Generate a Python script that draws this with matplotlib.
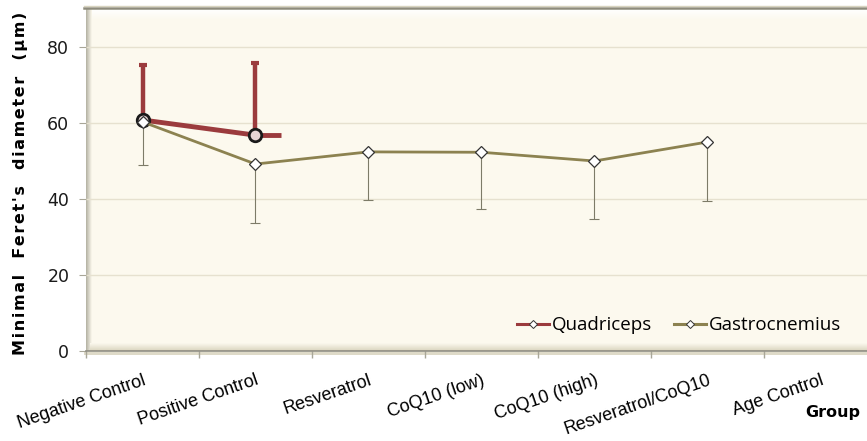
import numpy as np
import matplotlib.pyplot as plt
from matplotlib.lines import Line2D

# Groups and measurements (minimal Feret's diameter, µm)
groups = ["Negative Control", "Positive Control", "Resveratrol", "CoQ10 (low)",
          "CoQ10 (high)", "Resveratrol/CoQ10", "Age Control"]

quad_mean = [60.8, 56.8]
quad_err_up = [14.5, 19.0]
quad_tail = [56.8, 56.8]          # trailing segment after the last quadriceps point
quad_tail_x = [1.0, 1.23]

gastro_mean = [60.3, 49.2, 52.4, 52.3, 50.0, 55.0]
gastro_err_down = [11.3, 15.5, 12.6, 15.0, 15.2, 15.5]

y_ticks = [0, 20, 40, 60, 80]

RED = "#9B3B3D"
OLIVE = "#8C8250"
CREAM = "#FCF9EE"

W, H = 867, 441
fig = plt.figure(figsize=(W / 100, H / 100), dpi=100)

left_px, right_px, top_px, bottom_px = 86, 877, 8, 351
ax = fig.add_axes([left_px / W, 1 - bottom_px / H,
                   (right_px - left_px) / W, (bottom_px - top_px) / H])
ax.set_facecolor(CREAM)
ax.set_xlim(-0.5, len(groups) - 0.5)
ax.set_ylim(0, (bottom_px - top_px) / 3.8)

# grid
ax.set_yticks(y_ticks)
ax.yaxis.grid(True, color="#E6E1CF", lw=1.0, zorder=0)
ax.set_axisbelow(True)

for s in ["top", "right", "left"]:
    ax.spines[s].set_visible(False)
ax.spines["bottom"].set_color("#8E8C80")
ax.spines["bottom"].set_linewidth(1.2)


def fx(px):
    return px / W


def fy(py):
    return 1 - py / H


# bevel shading: left edge, top edge, bottom floor
def grad(extent, horizontal, c0, c1, n=64):
    c0 = np.array(plt.matplotlib.colors.to_rgb(c0))
    c1 = np.array(plt.matplotlib.colors.to_rgb(c1))
    t = np.linspace(0, 1, n)
    img = c0[None, :] * (1 - t[:, None]) + c1[None, :] * t[:, None]
    img = img[None, :, :] if horizontal else img[:, None, :]
    ax.imshow(img, extent=extent, aspect="auto", zorder=0.5,
              transform=fig.transFigure, interpolation="bilinear", origin="upper")


grad([fx(84), fx(92), fy(352), fy(8)], True, "#9A9888", CREAM)
grad([fx(92), fx(877), fy(20), fy(9)], False, "#FFFFFF", CREAM)
grad([fx(90), fx(877), fy(351), fy(343)], False, CREAM, "#D9D4BE")
fig.add_artist(Line2D([fx(84), fx(877)], [fy(8), fy(8)], color="#8E8C7C", lw=1.8))
fig.add_artist(Line2D([fx(84), fx(877)], [fy(6.3), fy(6.3)], color="#D8D4C0", lw=1.0))
fig.add_artist(plt.Rectangle((fx(84), fy(355)), fx(877) - fx(84), fy(352) - fy(355),
                             transform=fig.transFigure, color="#DEDAC8", lw=0, zorder=0))

# ticks at category boundaries, labels at category centres
ax.set_xticks(np.arange(-0.5, len(groups), 1.0))
ax.set_xticklabels([])
ax.set_xticks(np.arange(len(groups)), minor=True)
ax.set_xticklabels(groups, minor=True, rotation=19, ha="right",
                   rotation_mode="anchor", fontsize=13, family="Liberation Sans")
ax.tick_params(axis="x", which="minor", length=0, pad=15)
ax.tick_params(axis="x", which="major", length=5, color="#A8A698", width=1.0)
ax.tick_params(axis="y", length=5, color="#A8A698", labelsize=12.5, pad=7)
for lbl in ax.get_yticklabels():
    lbl.set_family("DejaVu Sans")
    lbl.set_color("#1A1A1A")

x_all = np.arange(len(groups))

# Quadriceps
xq = x_all[:len(quad_mean)]
ax.errorbar(xq, quad_mean, yerr=[np.zeros(len(quad_mean)), quad_err_up],
            fmt="none", ecolor=RED, elinewidth=3.2, capsize=3, capthick=3, zorder=3)
ax.plot(quad_tail_x, quad_tail, color=RED, lw=3.5, zorder=3, solid_capstyle="butt")
ax.plot(xq, quad_mean, color=RED, lw=3.5, marker="o", ms=9,
        mfc="#E8D6D6", mec="#1A1A1A", mew=2.0, zorder=4)

# Gastrocnemius
xg = x_all[:len(gastro_mean)]
ax.errorbar(xg, gastro_mean, yerr=[gastro_err_down, np.zeros(len(gastro_mean))],
            fmt="none", ecolor="#7D7B68", elinewidth=0.8, capsize=3.5, capthick=0.8, zorder=5)
ax.plot(xg, gastro_mean, color=OLIVE, lw=2.0, marker="D", ms=6,
        mfc="white", mec="#333333", mew=0.9, zorder=6)

# legend
h1 = Line2D([], [], color=RED, lw=2.2, marker="D", ms=4.5, mfc="white", mec="#333333", mew=0.7)
h2 = Line2D([], [], color=OLIVE, lw=2.2, marker="D", ms=4.5, mfc="white", mec="#333333", mew=0.7)
ax.legend([h1, h2], ["Quadriceps", "Gastrocnemius"], ncol=2, frameon=False,
          loc="lower right",
          bbox_to_anchor=((858 - left_px) / (right_px - left_px), 0.0),
          handlelength=1.7, handletextpad=0.15, columnspacing=1.2,
          prop={"family": "Open Sans", "size": 13.5})

# axis titles (letter-spaced)
ylabel = "Minimal  Feret's  diameter  (µm)"
fig.text(0.024, 1 - 183 / H, "\u200a".join(ylabel),
         rotation=90, ha="center", va="center", fontsize=11.5, fontweight="bold",
         family="DejaVu Sans")
fig.text(fx(805), fy(413), "Group", ha="left", va="center",
         fontsize=11.5, fontweight="bold", family="DejaVu Sans")

fig.savefig("out.png", dpi=100, facecolor="white")
